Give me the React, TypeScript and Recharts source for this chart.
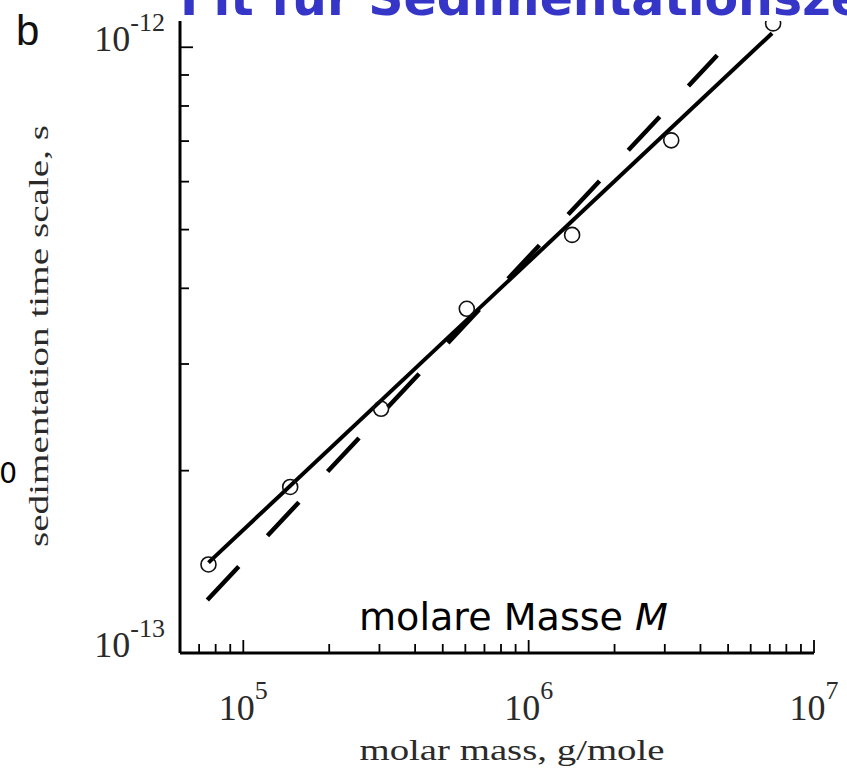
import React from "react";
import { ComposedChart, XAxis, YAxis, Line, Scatter } from "recharts";

// measured points: molar mass (g/mole) vs sedimentation time scale (s)
const molarMass = [7.55e4, 1.46e5, 3.04e5, 6.07e5, 1.42e6, 3.16e6, 7.19e6];
const sedTime = [1.4e-13, 1.88e-13, 2.53e-13, 3.7e-13, 4.9e-13, 7.02e-13, 1.095e-12];

// fit lines, endpoints
const solidFitMass = [7.55e4, 7.13e6];
const solidFitTime = [1.41e-13, 1.055e-12];
const dashedFitMass = [7.48e4, 4.58e6];
const dashedFitTime = [1.223e-13, 9.7e-13];

const xTicks = [
    7e4, 8e4, 9e4, 1e5,
    2e5, 3e5, 4e5, 5e5, 6e5, 7e5, 8e5, 9e5, 1e6,
    2e6, 3e6, 4e6, 5e6, 6e6, 7e6, 8e6, 9e6, 1e7,
];
const yTicks = [1e-13, 2e-13, 3e-13, 4e-13, 5e-13, 6e-13, 7e-13, 8e-13, 9e-13, 1e-12];

const points = molarMass.map((M, i) => ({ M, t: sedTime[i] }));
const solidFit = solidFitMass.map((M, i) => ({ M, t: solidFitTime[i] }));
const dashedFit = dashedFitMass.map((M, i) => ({ M, t: dashedFitTime[i] }));

const SERIF = "'Liberation Serif', 'DejaVu Serif', serif";
const SANS = "'DejaVu Sans', Verdana, sans-serif";
const TEXT = "#2a2a2a";

const isDecade = (v: number) => {
    const l = Math.log10(v);
    return Math.abs(l - Math.round(l)) < 1e-6;
};

const XTick = (props: any) => {
    const { x, y, payload } = props;
    const v = payload.value;
    const major = isDecade(v);
    return (
        <g>
            <line x1={x} y1={y} x2={x} y2={y - (major ? 13 : 9)} stroke="#000" strokeWidth={1.8} />
            {major && (
                <text x={x} y={y + 67} textAnchor="middle" fontFamily={SERIF} fontSize={36} fill={TEXT}>
                    10
                    <tspan dy={-21} fontSize={26}>{Math.round(Math.log10(v))}</tspan>
                </text>
            )}
        </g>
    );
};

const YTick = (props: any) => {
    const { x, y, payload } = props;
    const v = payload.value;
    const major = isDecade(v);
    return (
        <g>
            {v > 1.5e-13 && (
                <line x1={x} y1={y} x2={x + (major ? 13 : 9)} y2={y} stroke="#000" strokeWidth={1.8} />
            )}
            {major && (
                <text x={x - 15} y={y + 4} textAnchor="end" fontFamily={SERIF} fontSize={36} fill={TEXT}>
                    10
                    <tspan dy={-20} fontSize={26}>{"-" + Math.abs(Math.round(Math.log10(v)))}</tspan>
                </text>
            )}
        </g>
    );
};

const OpenCircle = (props: any) => (
    <circle cx={props.cx} cy={props.cy} r={7.5} fill="none" stroke="#111" strokeWidth={1.6} />
);

export default function App() {
    return (
        <div style={{ position: "absolute", left: 0, top: 0, width: 847, height: 776, background: "#fff", overflow: "hidden" }}>
            <ComposedChart width={847} height={776} margin={{ top: 21, right: 33, bottom: 83, left: 120 }}>
                <XAxis
                    type="number"
                    dataKey="M"
                    scale="log"
                    domain={[6e4, 1e7]}
                    allowDataOverflow
                    ticks={xTicks}
                    interval={0}
                    height={40}
                    axisLine={{ stroke: "#000", strokeWidth: 3 }}
                    tickLine={false}
                    tickSize={0}
                    tickMargin={0}
                    tick={(p: any) => <XTick {...p} />}
                />
                <YAxis
                    type="number"
                    dataKey="t"
                    scale="log"
                    domain={[1e-13, 1.105e-12]}
                    allowDataOverflow
                    ticks={yTicks}
                    interval={0}
                    width={60}
                    axisLine={{ stroke: "#000", strokeWidth: 3 }}
                    tickLine={false}
                    tickSize={0}
                    tickMargin={0}
                    tick={(p: any) => <YTick {...p} />}
                />
                <Line
                    data={dashedFit}
                    dataKey="t"
                    type="linear"
                    stroke="#000"
                    strokeWidth={4.5}
                    strokeDasharray="46 42"
                    dot={false}
                    activeDot={false}
                    isAnimationActive={false}
                />
                <Line
                    data={solidFit}
                    dataKey="t"
                    type="linear"
                    stroke="#000"
                    strokeWidth={4}
                    dot={false}
                    activeDot={false}
                    isAnimationActive={false}
                />
                <Scatter data={points} dataKey="t" shape={OpenCircle} isAnimationActive={false} />
            </ComposedChart>

            {/* texts laid over the chart */}
            <svg width={847} height={776} style={{ position: "absolute", left: 0, top: 0, pointerEvents: "none" }}>
                <text x={180} y={15} fontFamily={SANS} fontWeight="bold" fontSize={49} fill="#3535c8">
                    Fit für Sedimentationszeit
                </text>
                <text x={16} y={45} fontFamily="'Liberation Sans', Arial, sans-serif" fontSize={42} fill="#111">
                    b
                </text>
                <text x={17} y={483} textAnchor="end" fontFamily={SANS} fontSize={28} fill="#000">
                    0
                </text>
                <text
                    x={48}
                    y={336}
                    transform="rotate(-90 48 336)"
                    textAnchor="middle"
                    fontFamily={SERIF}
                    fontSize={27}
                    fill={TEXT}
                    textLength={422}
                    lengthAdjust="spacingAndGlyphs"
                >
                    sedimentation time scale, s
                </text>
                <text
                    x={512}
                    y={760}
                    textAnchor="middle"
                    fontFamily={SERIF}
                    fontSize={30}
                    fill={TEXT}
                    textLength={305}
                    lengthAdjust="spacingAndGlyphs"
                >
                    molar mass, g/mole
                </text>
                <text
                    x={359}
                    y={630}
                    fontFamily={SANS}
                    fontSize={37}
                    fill="#000"
                    textLength={309}
                    lengthAdjust="spacingAndGlyphs"
                >
                    molare Masse <tspan fontStyle="italic">M</tspan>
                </text>
            </svg>
        </div>
    );
}
